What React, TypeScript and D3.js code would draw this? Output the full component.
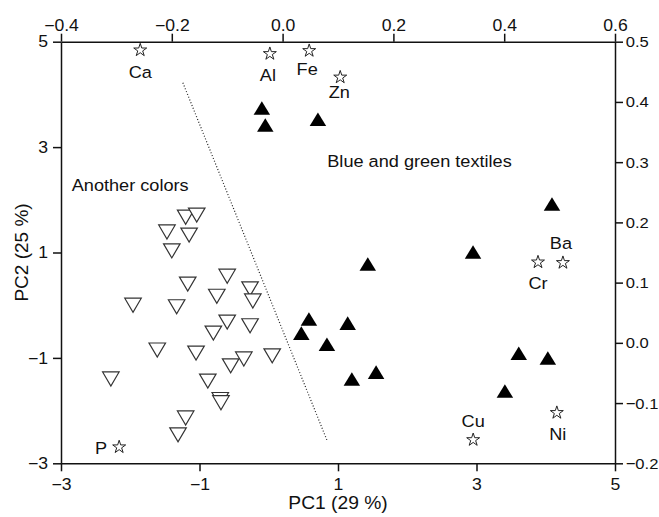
import { useEffect, useRef } from 'react'
import * as d3 from 'd3'

// PC scores, blue and green textiles (filled up-triangles)
const blueGreenPC1 = [-0.1, -0.05, 0.71, 4.09, 2.95, 1.43, 0.58, 0.47, 1.14, 0.84, 1.55, 1.2, 3.61, 4.03, 3.41]
const blueGreenPC2 = [3.74, 3.42, 3.53, 1.92, 1.01, 0.78, -0.26, -0.53, -0.34, -0.74, -1.27, -1.4, -0.91, -1.0, -1.63]

// PC scores, other colours (open down-triangles)
const otherPC1 = [-1.2, -1.04, -1.47, -1.15, -1.4, -0.6, -1.17, -0.75, -0.27, -0.23, -1.96, -1.33, -0.6, -0.27, -0.8, -1.61, -1.05, 0.05, -0.36, -0.55, -2.28, -0.88, -0.7, -0.69, -1.2, -1.31]
const otherPC2 = [1.67, 1.71, 1.39, 1.33, 1.03, 0.55, 0.4, 0.17, 0.31, 0.08, 0.0, -0.03, -0.32, -0.39, -0.53, -0.85, -0.91, -0.96, -1.02, -1.15, -1.4, -1.44, -1.79, -1.85, -2.14, -2.46]

// loadings (top / right axes)
const loadingNames = ['Ca', 'Al', 'Fe', 'Zn', 'Ba', 'Cr', 'Cu', 'Ni', 'P']
const loadingX = [-0.257, -0.023, 0.048, 0.104, 0.506, 0.461, 0.344, 0.495, -0.295]
const loadingY = [0.486, 0.48, 0.485, 0.441, 0.133, 0.134, -0.161, -0.116, -0.173]
const labelOffsets = [[0, 22], [-2, 21], [-2, 18], [-1, 15], [-2, -20], [0, 21], [0, -19], [1, 21], [-18, 1]]

const pcTicks = [-3, -1, 1, 3, 5]
const loadXTicks = [-0.4, -0.2, 0.0, 0.2, 0.4, 0.6]
const loadYTicks = [-0.2, -0.1, 0.0, 0.1, 0.2, 0.3, 0.4, 0.5]

// dotted separating line
const dividerPC1 = [-1.24, 0.84]
const dividerPC2 = [4.22, -2.56]

const FONT = 'Liberation Sans, Arial, Helvetica, sans-serif'
const SX = 1.1

const triUp = {
  draw(ctx: any, size: number) {
    const w = Math.sqrt(size)
    const h = w * 0.82
    ctx.moveTo(0, -h / 2)
    ctx.lineTo(w / 2, h / 2)
    ctx.lineTo(-w / 2, h / 2)
    ctx.closePath()
  }
}
const triDown = {
  draw(ctx: any, size: number) {
    const w = Math.sqrt(size)
    const h = w * 0.85
    ctx.moveTo(-w / 2, -h / 2)
    ctx.lineTo(w / 2, -h / 2)
    ctx.lineTo(0, h / 2)
    ctx.closePath()
  }
}

export default function App() {
  const svgRef = useRef<SVGSVGElement>(null)

  useEffect(() => {
    if (!svgRef.current) return
    const svg = d3.select(svgRef.current)
    svg.selectAll('*').remove()

    const left = 61, right = 615, top = 41.7, bottom = 463.3

    const x = d3.scaleLinear().domain([-3, 5]).range([left, right])
    const y = d3.scaleLinear().domain([-3, 5]).range([bottom, top])
    const xl = d3.scaleLinear().domain([-0.4, 0.6]).range([left, right])
    const yl = d3.scaleLinear().domain([-0.2, 0.5]).range([bottom, top])

    const styleAxis = (g: any) => {
      g.select('.domain').attr('stroke', '#111').attr('stroke-width', 1.5)
      g.selectAll('.tick line').attr('stroke', '#111').attr('stroke-width', 1.5)
      g.selectAll('text')
        .attr('font-family', FONT)
        .attr('font-size', 16)
        .attr('fill', '#111')
    }

    const gb = svg.append('g').attr('transform', `translate(0,${bottom})`)
      .call(d3.axisBottom(x).tickValues(pcTicks).tickSize(8).tickPadding(7).tickSizeOuter(0).tickFormat(d3.format('d')))
    styleAxis(gb)
    gb.selectAll('text').attr('transform', `scale(${SX},1)`)

    const gl = svg.append('g').attr('transform', `translate(${left},0)`)
      .call(d3.axisLeft(y).tickValues(pcTicks).tickSize(8).tickPadding(5).tickSizeOuter(0).tickFormat(d3.format('d')))
    styleAxis(gl)
    gl.selectAll('text').attr('x', -13 / SX).attr('transform', `scale(${SX},1)`)

    const gt = svg.append('g').attr('transform', `translate(0,${top})`)
      .call(d3.axisTop(xl).tickValues(loadXTicks).tickSize(8).tickPadding(3).tickSizeOuter(0).tickFormat(d3.format('.1f')))
    styleAxis(gt)
    gt.selectAll('text').attr('transform', `scale(${SX},1)`)

    const gr = svg.append('g').attr('transform', `translate(${right},0)`)
      .call(d3.axisRight(yl).tickValues(loadYTicks).tickSize(8).tickPadding(3).tickSizeOuter(0).tickFormat(d3.format('.1f')))
    styleAxis(gr)
    gr.selectAll('text').attr('x', 10).attr('font-size', 15.5).attr('transform', 'scale(1.07,1)')

    const addText = (tx: number, ty: number, s: string, size: number, anchor: string) => {
      svg.append('g').attr('transform', `translate(${tx},${ty})`)
        .append('text')
        .attr('transform', `scale(${SX},1)`)
        .attr('text-anchor', anchor)
        .attr('font-family', FONT)
        .attr('font-size', size)
        .attr('fill', '#111')
        .text(s)
    }

    // axis titles
    addText((left + right) / 2, 509, 'PC1 (29 %)', 17.5, 'middle')
    svg.append('text')
      .attr('transform', `translate(28,${(top + bottom) / 2}) rotate(-90)`)
      .attr('text-anchor', 'middle')
      .attr('font-family', FONT)
      .attr('font-size', 19)
      .attr('fill', '#111')
      .text('PC2 (25 %)')

    // divider
    svg.append('line')
      .attr('x1', x(dividerPC1[0])).attr('y1', y(dividerPC2[0]))
      .attr('x2', x(dividerPC1[1])).attr('y2', y(dividerPC2[1]))
      .attr('stroke', '#222')
      .attr('stroke-width', 1.2)
      .attr('stroke-dasharray', '1,2')

    // group annotations
    addText(x(-2.845), y(2.167), 'Another colors', 16.5, 'start')
    addText(x(0.845), y(2.63), 'Blue and green textiles', 16.5, 'start')

    // other colours
    const downSym = d3.symbol().type(triDown as any).size(16.5 * 16.5)
    svg.append('g').selectAll('path')
      .data(otherPC1.map((v, i) => [v, otherPC2[i]]))
      .enter().append('path')
      .attr('transform', d => `translate(${x(d[0])},${y(d[1])})`)
      .attr('d', downSym as any)
      .attr('fill', 'white')
      .attr('stroke', '#333')
      .attr('stroke-width', 1.2)

    // blue and green
    const upSym = d3.symbol().type(triUp as any).size(16.5 * 16.5)
    svg.append('g').selectAll('path')
      .data(blueGreenPC1.map((v, i) => [v, blueGreenPC2[i]]))
      .enter().append('path')
      .attr('transform', d => `translate(${x(d[0])},${y(d[1])})`)
      .attr('d', upSym as any)
      .attr('fill', '#000')

    // loadings
    const star = d3.symbol().type(d3.symbolStar).size(52)
    svg.append('g').selectAll('path')
      .data(loadingNames.map((n, i) => [loadingX[i], loadingY[i]]))
      .enter().append('path')
      .attr('transform', d => `translate(${xl(d[0])},${yl(d[1])})`)
      .attr('d', star as any)
      .attr('fill', 'white')
      .attr('stroke', '#222')
      .attr('stroke-width', 1)

    loadingNames.forEach((n, i) => {
      const g = svg.append('g')
        .attr('transform', `translate(${xl(loadingX[i]) + labelOffsets[i][0]},${yl(loadingY[i]) + labelOffsets[i][1]})`)
      g.append('text')
        .attr('transform', `scale(${SX},1)`)
        .attr('text-anchor', 'middle')
        .attr('dy', '0.36em')
        .attr('font-family', FONT)
        .attr('font-size', 16.5)
        .attr('fill', '#111')
        .text(n)
    })
  }, [])

  return (
    <svg
      ref={svgRef}
      width={659}
      height={517}
      style={{ position: 'absolute', left: 0, top: 0, display: 'block', background: 'white' }}
    />
  )
}
